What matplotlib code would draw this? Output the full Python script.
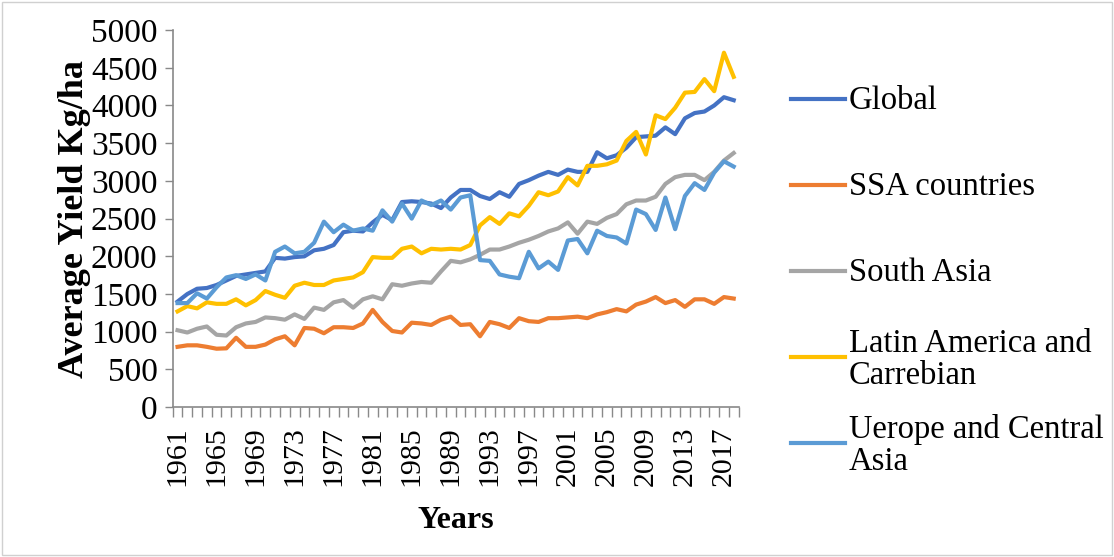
import matplotlib
matplotlib.use("Agg")
import matplotlib.pyplot as plt
from matplotlib.lines import Line2D
from matplotlib.patches import Rectangle

plt.rcParams["font.family"] = ["Liberation Serif", "DejaVu Serif"]

years = list(range(1961, 2019))

global_yield = [1400, 1500, 1570, 1580, 1620, 1680, 1740, 1760, 1780, 1800,
                1980, 1970, 1990, 2000, 2080, 2100, 2150, 2320, 2340, 2330,
                2450, 2550, 2480, 2720, 2730, 2720, 2700, 2640, 2780, 2880,
                2880, 2800, 2760, 2850, 2790, 2960, 3010, 3070, 3120, 3080,
                3150, 3120, 3120, 3380, 3300, 3340, 3440, 3580, 3590, 3600,
                3710, 3620, 3830, 3900, 3920, 4000, 4110, 4070]

ssa = [800, 820, 820, 800, 775, 780, 920, 800, 800, 830,
       900, 940, 820, 1050, 1040, 980, 1060, 1060, 1050, 1110,
       1290, 1130, 1010, 990, 1120, 1110, 1090, 1160, 1200, 1090,
       1100, 940, 1130, 1100, 1050, 1180, 1140, 1130, 1180, 1180,
       1190, 1200, 1180, 1230, 1260, 1300, 1270, 1360, 1400, 1460,
       1380, 1420, 1330, 1430, 1430, 1370, 1460, 1440]

south_asia = [1020, 990, 1040, 1070, 960, 950, 1060, 1110, 1130, 1190,
              1180, 1160, 1230, 1170, 1320, 1290, 1390, 1420, 1320, 1430,
              1470, 1430, 1630, 1610, 1640, 1660, 1650, 1800, 1940, 1920,
              1960, 2020, 2090, 2090, 2130, 2180, 2220, 2270, 2330, 2370,
              2450, 2300, 2460, 2430, 2510, 2560, 2690, 2740, 2740, 2790,
              2960, 3050, 3080, 3080, 3010, 3120, 3270, 3370]

latin_america = [1270, 1340, 1310, 1390, 1370, 1370, 1430, 1350, 1420, 1540,
                 1490, 1450, 1610, 1650, 1620, 1620, 1680, 1700, 1720, 1790,
                 1990, 1980, 1980, 2100, 2130, 2040, 2100, 2090, 2100, 2090,
                 2150, 2410, 2520, 2430, 2570, 2530, 2670, 2850, 2810, 2860,
                 3050, 2940, 3200, 3200, 3220, 3270, 3530, 3650, 3350, 3870,
                 3820, 3970, 4170, 4180, 4350, 4190, 4700, 4380]

europe_ca = [1380, 1380, 1510, 1440, 1590, 1720, 1750, 1700, 1760, 1680,
             2060, 2130, 2040, 2060, 2180, 2460, 2320, 2420, 2340, 2370,
             2340, 2610, 2460, 2700, 2500, 2740, 2680, 2740, 2620, 2780,
             2810, 1950, 1940, 1760, 1730, 1710, 2060, 1840, 1930, 1820,
             2210, 2230, 2040, 2340, 2270, 2250, 2170, 2620, 2560, 2350,
             2780, 2360, 2800, 2970, 2880, 3110, 3260, 3190]

series = [
    ("Global", global_yield, "#4472C4"),
    ("SSA countries", ssa, "#ED7D31"),
    ("South Asia", south_asia, "#A5A5A5"),
    ("Latin America and\nCarrebian", latin_america, "#FFC000"),
    ("Uerope and Central\nAsia", europe_ca, "#5B9BD5"),
]

W, H = 1114, 557
fig = plt.figure(figsize=(W / 100, H / 100), dpi=100)
ax = fig.add_axes([0.155, 0.269, 0.508, 0.677])

x = list(range(len(years)))
for name, vals, col in series:
    ax.plot(x, vals, color=col, lw=3.0, solid_joinstyle="round")

ax.set_xlim(-0.5, len(years) - 0.5)
ax.set_ylim(0, 5000)
ax.set_yticks(range(0, 5001, 500))

ax.set_xticks(x[::4])
ax.set_xticklabels([str(y) for y in years[::4]], rotation=90)
ax.set_xticks([i - 0.5 for i in range(len(years) + 1)], minor=True)
ax.tick_params(axis="x", which="major", length=0, pad=14, labelsize=21.5)
ax.tick_params(axis="x", which="minor", length=7, color="#898989", width=1)
ax.tick_params(axis="y", length=6, color="#898989", width=1, labelsize=24, pad=5)

for s in ["top", "right"]:
    ax.spines[s].set_visible(False)
for s in ["left", "bottom"]:
    ax.spines[s].set_color("#898989")
    ax.spines[s].set_linewidth(1.2)

ax.set_ylabel("Average Yield Kg/ha", fontsize=26, fontweight="bold", labelpad=0)
ax.set_xlabel("Years", fontsize=23, fontweight="bold", labelpad=14)

# Excel-style legend: fixed slots, handle aligned with the first text line
for i, (name, vals, col) in enumerate(series):
    yc = 1 - (99 + 86 * i) / H
    fig.add_artist(Line2D([791 / W, 845 / W], [yc, yc], color=col, lw=3.0,
                          transform=fig.transFigure))
    fig.text(849 / W, yc + 1.5 / H, name, fontsize=23.5, va="center_baseline",
             ha="left", linespacing=1.05)

fig.patches.append(Rectangle((0.002, 0.003), 0.996, 0.994, transform=fig.transFigure,
                             fill=False, edgecolor="#d0d0d0", lw=1))

fig.savefig("out.png", dpi=100)
